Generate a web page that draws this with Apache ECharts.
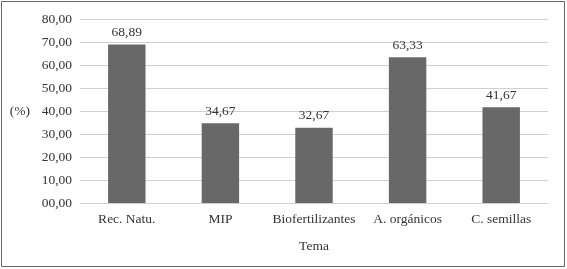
<!DOCTYPE html>
<html>
<head>
<meta charset="utf-8">
<script src="https://cdn.jsdelivr.net/npm/echarts@6/dist/echarts.min.js"></script>
<style>
html,body{margin:0;padding:0;background:#fff;}
#c{width:567px;height:269px;}
</style>
</head>
<body>
<div id="c"></div>
<script>
var categories = ["Rec. Natu.", "MIP", "Biofertilizantes", "A. orgánicos", "C. semillas"];
var values = [68.89, 34.67, 32.67, 63.33, 41.67];
var xName = "Tema";
var yName = "(%)";

function fmt(v){
  var s = v.toFixed(2).replace('.', ',');
  if (v < 10) s = '0' + s;
  return s;
}
var font = "'Liberation Serif', 'DejaVu Serif', serif";
var chart = echarts.init(document.getElementById('c'), null, {renderer:'canvas'});
chart.setOption({
  animation:false,
  backgroundColor:'#fff',
  textStyle:{fontFamily:font},
  graphic:[{type:'rect', shape:{x:1.5,y:1.5,width:563,height:265}, style:{fill:'none', stroke:'#666', lineWidth:1}}],
  grid:{left:80, right:19, top:19, bottom:66},
  xAxis:{
    type:'category', data:categories,
    name:xName, nameLocation:'middle', nameGap:36,
    nameTextStyle:{fontFamily:font, fontSize:13.5, color:'#333'},
    axisLine:{show:true, lineStyle:{color:'#d0d0d0', width:1}},
    axisTick:{show:false},
    axisLabel:{interval:0, hideOverlap:false, fontFamily:font, fontSize:13.5, color:'#333', margin:9}
  },
  yAxis:{
    type:'value', min:0, max:80, interval:10,
    name:yName, nameLocation:'middle', nameRotate:0, nameGap:50,
    nameTextStyle:{fontFamily:font, fontSize:13.5, color:'#333'},
    axisLine:{show:false}, axisTick:{show:false},
    axisLabel:{fontFamily:font, fontSize:13.5, color:'#333', margin:8, formatter:function(v){return fmt(v);}},
    splitLine:{lineStyle:{color:'#d0d0d0', width:1}}
  },
  series:[{
    type:'bar', data:values, barWidth:'40%',
    itemStyle:{color:'#686868'},
    label:{show:true, position:'top', distance:5, fontFamily:font, fontSize:13.5, color:'#333', formatter:function(p){return fmt(p.value);}}
  }]
});
</script>
</body>
</html>
